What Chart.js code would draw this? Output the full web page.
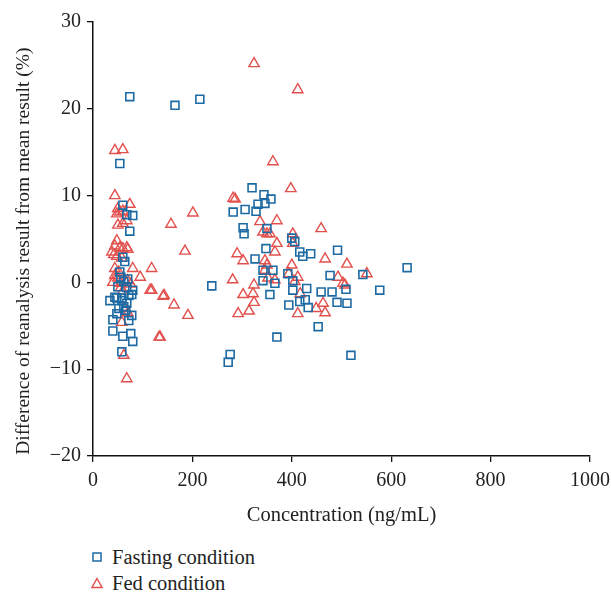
<!DOCTYPE html>
<html>
<head>
<meta charset="utf-8">
<script src="https://cdn.jsdelivr.net/npm/chart.js@4.4.1/dist/chart.umd.min.js"></script>
<style>
  html, body { margin: 0; padding: 0; background: #fff; }
  #wrap { position: relative; width: 611px; height: 594px; }
  #box { position: absolute; left: 0; top: 0; width: 611px; height: 535px; }
  #legend { position: absolute; left: 91px; top: 544px; font-family: "Liberation Serif", "DejaVu Serif", serif; font-size: 20.5px; color: #222; }
  .item { display: flex; align-items: center; height: 26px; }
  .item svg { margin-right: 9px; }
</style>
</head>
<body>
<div id="wrap">
  <div id="box"><canvas id="c"></canvas></div>
  <div id="legend"></div>
</div>
<script>
const seriesNames = ["Fasting condition", "Fed condition"];
const xTicks = [0, 200, 400, 600, 800, 1000];
const yTicks = [-20, -10, 0, 10, 20, 30];

// Fasting condition: [concentration (ng/mL), difference (%)]
const fastingX = [74,54,165,215,320,344,358,282,306,328,332,346,302,304,350,326,348,342,239,356,276,272,400,406,416,422,438,492,342,362,366,392,402,477,509,430,459,481,402,491,511,394,416,427,433,453,370,519,632,543,577,
  60,68,80,74,60,64,56,62,68,80,44,58,78,48,34,58,68,48,40,72,40,60,76,80,58,52,66,50,72,62,78,54,70];
const fastingY = [21.4,13.7,20.4,21.1,10.9,10.1,9.6,8.1,8.4,8.2,9.0,9.1,6.3,5.6,6.2,2.7,3.9,0.2,-0.4,-1.4,-8.3,-9.2,5.1,4.7,3.5,3.0,3.3,3.7,1.4,1.4,-0.1,1.0,0.2,0.8,-0.8,-0.7,-1.1,-1.1,-0.9,-2.3,-2.4,-2.6,-2.2,-2.0,-2.9,-5.1,-6.3,-8.4,1.7,0.9,-0.9,
  8.9,7.8,7.7,5.9,2.9,2.4,0.6,0.1,-0.6,-0.9,-1.7,-1.8,-1.4,-1.8,-2.1,-2.1,-2.4,-3.6,-4.3,-4.4,-5.6,-6.2,-5.9,-6.8,-8.0,-3.0,-3.2,-0.5,-1.5,-2.8,-3.8,1.2,0.4];

// Fed condition
const fedX = [44,60,44,324,412,362,398,282,286,201,157,336,350,185,290,302,346,350,346,118,118,141,163,191,133,281,302,324,322,324,314,292,370,459,402,342,356,402,370,366,467,511,400,394,412,406,352,366,493,507,417,449,467,463,412,551,503,
  74,50,54,48,60,68,60,50,48,44,54,60,68,70,38,42,48,58,44,80,95,70,44,50,115,143,40,56,66,76,60,64,70,58,135,62,68,56,52];
const fedY = [15.2,15.3,10.0,25.2,22.2,13.9,10.8,9.7,9.6,8.0,6.7,7.0,5.6,3.6,3.3,2.5,2.5,2.0,1.4,1.6,-0.9,-1.6,-2.6,-3.8,-6.3,0.3,-1.4,-0.3,-1.3,-2.3,-3.3,-3.6,7.1,6.2,5.6,5.8,5.6,4.5,4.5,3.5,2.7,2.1,2.0,1.0,0.6,0.1,0.5,0.3,0.6,-0.3,-1.3,-3.0,-3.5,-2.4,-3.6,1.0,-0.1,
  9.0,8.5,8.1,7.9,8.2,7.1,6.8,6.6,4.8,4.2,4.0,3.9,4.0,3.8,3.5,3.2,3.0,2.8,1.6,1.6,0.6,0.2,0.8,0.5,-0.9,-1.5,0.0,-0.1,0.0,-0.2,-1.0,-3.0,-3.5,-4.6,-6.3,-8.4,-11.1,-0.6,1.2];

const BLUE = '#1d6aa3';
const RED = '#e2504d';
const FONT = '"Liberation Serif", "DejaVu Serif", serif';

function pts(xs, ys) { return xs.map((x, i) => ({ x: x, y: ys[i] })); }

const chart = new Chart(document.getElementById('c'), {
  type: 'scatter',
  data: {
    datasets: [
      { label: seriesNames[0], data: pts(fastingX, fastingY), pointStyle: 'rect', pointRadius: 5.6, pointHoverRadius: 5.6,
        borderColor: BLUE, backgroundColor: 'rgba(0,0,0,0)', pointBorderWidth: 1.6 },
      { label: seriesNames[1], data: pts(fedX, fedY), pointStyle: 'triangle', pointRadius: 6, pointHoverRadius: 6,
        borderColor: RED, backgroundColor: 'rgba(0,0,0,0)', pointBorderWidth: 1.4 }
    ]
  },
  options: {
    responsive: true,
    maintainAspectRatio: false,
    animation: false,
    layout: { padding: { top: 22, right: 21, left: 8, bottom: 0 } },
    plugins: { legend: { display: false }, tooltip: { enabled: false } },
    scales: {
      x: {
        type: 'linear', min: 0, max: 1000,
        afterBuildTicks: s => { s.ticks = xTicks.map(v => ({ value: v })); },
        afterFit: s => { s.height = 79; s.paddingLeft = 0; s.paddingRight = 0; },
        grid: { display: true, drawOnChartArea: false, drawTicks: true, tickLength: 6, color: '#111', lineWidth: 1.3 },
        border: { display: true, color: '#111', width: 1.5 },
        ticks: { color: '#222', font: { family: FONT, size: 20 }, padding: 7, maxRotation: 0,
          callback: v => String(v) },
        title: { display: true, text: 'Concentration (ng/mL)', color: '#222', font: { family: FONT, size: 20.5 }, padding: 7 }
      },
      y: {
        type: 'linear', min: -20, max: 30,
        afterBuildTicks: s => { s.ticks = yTicks.map(v => ({ value: v })); },
        afterFit: s => { s.width = 85; s.paddingTop = 0; s.paddingBottom = 0; },
        grid: { display: true, drawOnChartArea: false, drawTicks: true, tickLength: 6, color: '#111', lineWidth: 1.3 },
        border: { display: true, color: '#111', width: 1.5 },
        ticks: { color: '#222', font: { family: FONT, size: 20 }, padding: 6,
          callback: v => String(v).replace('-', '\u2212') },
        title: { display: true, text: 'Difference of reanalysis result from mean result (%)\u00a0\u00a0\u00a0\u00a0\u00a0', color: '#222', font: { family: FONT, size: 19.5 }, padding: { bottom: 0 } }
      }
    }
  }
});

// Legend built from the chart's datasets
const legend = document.getElementById('legend');
chart.data.datasets.forEach(ds => {
  const item = document.createElement('div');
  item.className = 'item';
  const shape = ds.pointStyle === 'rect'
    ? '<svg width="12" height="12"><rect x="2" y="2" width="8" height="8" fill="none" stroke="' + ds.borderColor + '" stroke-width="1.5"/></svg>'
    : '<svg width="12" height="12"><polygon points="6,1.5 11,10.5 1,10.5" fill="none" stroke="' + ds.borderColor + '" stroke-width="1.4"/></svg>';
  item.innerHTML = shape + '<span>' + ds.label + '</span>';
  legend.appendChild(item);
});
</script>
</body>
</html>
